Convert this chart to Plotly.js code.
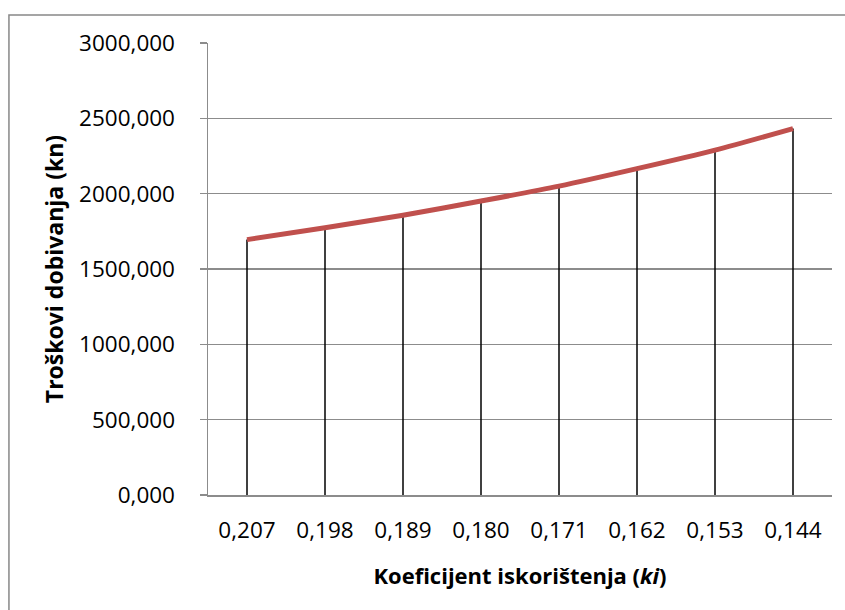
<!DOCTYPE html>
<html>
<head>
<meta charset="utf-8">
<script src="https://cdn.plot.ly/plotly-3.0.1.min.js"></script>
<style>
  html, body { margin: 0; padding: 0; background: #ffffff; }
  #chart { width: 845px; height: 610px; }
</style>
</head>
<body>
<div id="chart"></div>
<script>
// Data
const categories = ["0,207", "0,198", "0,189", "0,180", "0,171", "0,162", "0,153", "0,144"];
const costs = [1695, 1774, 1857, 1951, 2050, 2166, 2289, 2432];
const yTickValues = [0, 500, 1000, 1500, 2000, 2500, 3000];

const xTitle = "<b>Koeficijent iskorištenja (<i>ki</i>)</b>";
const yTitle = "<b>Troškovi dobivanja (kn)</b>";

const FONT = "Open Sans, Noto Sans, sans-serif";

const dropLines = {
  type: "scatter",
  mode: "markers",
  x: categories,
  y: costs,
  marker: { size: 1, color: "rgba(0,0,0,0)" },
  error_y: {
    type: "data",
    symmetric: false,
    array: costs.map(() => 0),
    arrayminus: costs,
    width: 0,
    thickness: 1.5,
    color: "#000000"
  },
  hoverinfo: "skip",
  showlegend: false
};

const costLine = {
  type: "scatter",
  mode: "lines",
  x: categories,
  y: costs,
  line: { color: "#C0504D", width: 5, shape: "spline", smoothing: 0.8 },
  showlegend: false
};

const layout = {
  width: 845,
  height: 610,
  margin: { l: 208, r: 13, t: 43, b: 115 },
  paper_bgcolor: "#ffffff",
  plot_bgcolor: "#ffffff",
  separators: ",.",
  font: { family: FONT, color: "#000000", size: 22.5 },
  showlegend: false,
  xaxis: {
    type: "category",
    range: [-0.5, categories.length - 0.5],
    showgrid: false,
    zeroline: false,
    showline: true,
    linecolor: "#8c8c8c",
    linewidth: 1.5,
    ticks: "",
    ticklabelstandoff: 14,
    tickfont: { family: FONT, size: 22.5, color: "#000000" },
    title: { text: xTitle, font: { family: FONT, size: 22, color: "#000000" }, standoff: 25 },
    automargin: false,
    fixedrange: true
  },
  yaxis: {
    range: [0, 3000],
    tickmode: "array",
    tickvals: yTickValues,
    tickformat: ".3f",
    showgrid: true,
    gridcolor: "#8c8c8c",
    gridwidth: 1.5,
    zeroline: false,
    showline: true,
    linecolor: "#8c8c8c",
    linewidth: 1.5,
    ticks: "outside",
    ticklen: 7,
    tickwidth: 1.5,
    tickcolor: "#8c8c8c",
    ticklabelstandoff: 20,
    tickfont: { family: FONT, size: 22.5, color: "#000000" },
    title: { text: yTitle, font: { family: FONT, size: 23, color: "#000000" }, standoff: 9 },
    automargin: false,
    fixedrange: true
  },
  shapes: [
    {
      type: "rect",
      xref: "paper",
      yref: "paper",
      x0: -0.319,
      x1: 1.2,
      y0: -0.5,
      y1: 1.062,
      line: { color: "#888888", width: 1.5 },
      fillcolor: "rgba(0,0,0,0)",
      layer: "below"
    }
  ]
};

Plotly.newPlot("chart", [dropLines, costLine], layout, { displayModeBar: false, staticPlot: true });
</script>
</body>
</html>
